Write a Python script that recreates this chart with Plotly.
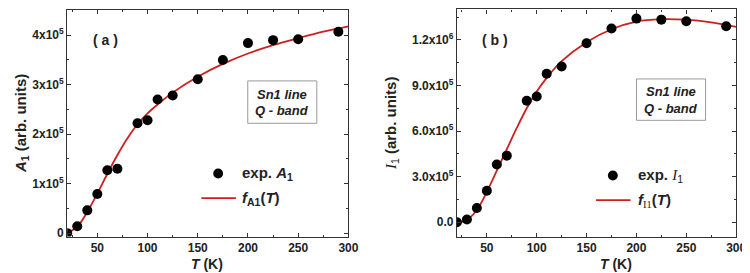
import plotly.graph_objects as go

# ---- data ----
T_exp = [20, 30, 40, 50, 60, 70, 90, 100, 110, 125, 150, 175, 200, 225, 250, 290]
A1_exp = [0.0, 0.14e5, 0.46e5, 0.79e5, 1.27e5, 1.30e5, 2.22e5, 2.28e5, 2.70e5, 2.78e5,
          3.11e5, 3.50e5, 3.84e5, 3.90e5, 3.92e5, 4.07e5]
I1_exp = [0.0, 0.17e5, 0.93e5, 2.07e5, 3.80e5, 4.38e5, 7.99e5, 8.27e5, 9.77e5, 10.25e5,
          11.78e5, 12.75e5, 13.40e5, 13.33e5, 13.23e5, 12.90e5]

T_fit = [20, 30, 40, 50, 60, 70, 80, 90, 100, 110, 125, 150, 175, 200, 225, 250, 275, 300]
A1_fit = [0.0, 0.13e5, 0.43e5, 0.80e5, 1.20e5, 1.58e5, 1.92e5, 2.20e5, 2.42e5, 2.60e5,
          2.84e5, 3.16e5, 3.42e5, 3.63e5, 3.80e5, 3.94e5, 4.07e5, 4.18e5]
I1_fit = [-0.04e5, 0.15e5, 0.80e5, 2.00e5, 3.40e5, 4.80e5, 6.20e5, 7.50e5, 8.60e5, 9.50e5,
          10.60e5, 11.85e5, 12.70e5, 13.20e5, 13.36e5, 13.33e5, 13.15e5, 12.85e5]

x_ticks = [50, 100, 150, 200, 250, 300]
x_text = ["50", "100", "150", "200", "250", "300"]
a_yticks = [0, 1e5, 2e5, 3e5, 4e5]
a_ytext = ["0", "1x10<sup>5</sup>", "2x10<sup>5</sup>", "3x10<sup>5</sup>", "4x10<sup>5</sup>"]
b_yticks = [0, 3e5, 6e5, 9e5, 1.2e6]
b_ytext = ["0.0", "3.0x10<sup>5</sup>", "6.0x10<sup>5</sup>", "9.0x10<sup>5</sup>", "1.2x10<sup>6</sup>"]

W, H = 750, 273
FONT = "Liberation Sans, Arial, sans-serif"
RED = "#cc2020"
AX = "#333333"

def px(x):
    return x / W

def py(y):
    return 1 - y / H

def bold(lst):
    return ["<b>" + s + "</b>" for s in lst]

fig = go.Figure()

fig.add_trace(go.Scatter(x=T_fit, y=A1_fit, mode="lines", line=dict(color=RED, width=1.8, shape="spline"),
                         xaxis="x", yaxis="y", showlegend=False))
fig.add_trace(go.Scatter(x=T_exp, y=A1_exp, mode="markers", marker=dict(color="black", size=10),
                         xaxis="x", yaxis="y", showlegend=False))
fig.add_trace(go.Scatter(x=T_fit, y=I1_fit, mode="lines", line=dict(color=RED, width=1.8, shape="spline"),
                         xaxis="x2", yaxis="y2", showlegend=False))
fig.add_trace(go.Scatter(x=T_exp, y=I1_exp, mode="markers", marker=dict(color="black", size=10),
                         xaxis="x2", yaxis="y2", showlegend=False))

common = dict(showline=True, linecolor=AX, linewidth=1.2, mirror="allticks", ticks="inside",
              ticklen=4, tickwidth=1, tickcolor=AX, showgrid=False, zeroline=False,
              tickfont=dict(family=FONT, size=12, color="#222"),
              minor=dict(ticks="inside", ticklen=2, tickcolor=AX, showgrid=False))

xa = dict(common, range=[20, 300], tickvals=x_ticks, ticktext=bold(x_text),
          minor=dict(common["minor"], dtick=25, tick0=0))

fig.update_layout(
    width=W, height=H, margin=dict(l=0, r=0, t=0, b=0),
    plot_bgcolor="white", paper_bgcolor="white", showlegend=False,
    xaxis=dict(xa, domain=[px(60), px(345)], anchor="y"),
    yaxis=dict(common, domain=[py(232), py(2)], anchor="x", range=[-0.07e5, 4.51e5],
               tickvals=a_yticks, ticktext=bold(a_ytext),
               minor=dict(common["minor"], dtick=0.5e5, tick0=0)),
    xaxis2=dict(xa, domain=[px(455), px(738)], anchor="y2"),
    yaxis2=dict(common, domain=[py(232), py(1.5)], anchor="x2", range=[-0.95e5, 14.0e5],
                tickvals=b_yticks, ticktext=bold(b_ytext),
                minor=dict(common["minor"], dtick=1.5e5, tick0=0)),
)

ann = []
def add_text(x, y, text, size=14, angle=0, xanchor="center", color="#222"):
    ann.append(dict(x=px(x), y=py(y), xref="paper", yref="paper", text=text, showarrow=False,
                    font=dict(family=FONT, size=size, color=color), textangle=angle,
                    xanchor=xanchor, yanchor="middle"))

# axis titles
add_text(202, 260, "<b><i>T</i> (K)</b>", size=14)
add_text(616, 260, "<b><i>T</i> (K)</b>", size=14)
add_text(13, 117, "<b><i>A</i><sub>1</sub> (arb. units)</b>", size=15, angle=-90)
add_text(388, 117, "<i><span style='font-family:Liberation Serif'>I</span></i><sub>1</sub><b> (arb. units)</b>",
         size=15, angle=-90)

# panel labels
add_text(99, 32, "<b>( a )</b>", size=14)
add_text(494, 32, "<b>( b )</b>", size=14)

# info boxes
for (x0, x1, y0, y1) in [(243, 313, 74, 117), (637, 707, 72, 114)]:
    fig.add_shape(type="rect", xref="paper", yref="paper", x0=px(x0), x1=px(x1), y0=py(y1), y1=py(y0),
                  line=dict(color="#999", width=1), fillcolor="white")
    add_text((x0 + x1) / 2, (y0 + y1) / 2 - 8, "<b><i>Sn1 line</i></b>", size=13)
    add_text((x0 + x1) / 2, (y0 + y1) / 2 + 9, "<b><i>Q - band</i></b>", size=13)

# legends
for (mx, my, ly, tx, lab1, lab2) in [
    (213, 168, 193, 235, "<b>exp. <i>A</i><sub>1</sub></b>", "<b><i>f</i><sub>A1</sub>(<i>T</i>)</b>"),
    (613, 170, 195, 636, "<b>exp. </b><i><span style='font-family:Liberation Serif'>I</span></i><sub>1</sub>",
     "<b><i>f</i></b><sub><span style='font-family:Liberation Serif'>I1</span></sub><b>(<i>T</i>)</b>"),
]:
    fig.add_shape(type="circle", xref="paper", yref="paper", x0=px(mx - 5), x1=px(mx + 5),
                  y0=py(my + 5), y1=py(my - 5), fillcolor="black", line=dict(color="black", width=0))
    fig.add_shape(type="line", xref="paper", yref="paper", x0=px(mx - 17), x1=px(mx + 18),
                  y0=py(ly), y1=py(ly), line=dict(color=RED, width=1.8))
    add_text(tx, my, lab1, size=15, xanchor="left")
    add_text(tx, ly, lab2, size=15, xanchor="left")

fig.update_layout(annotations=ann)
fig.write_html("out.html")
